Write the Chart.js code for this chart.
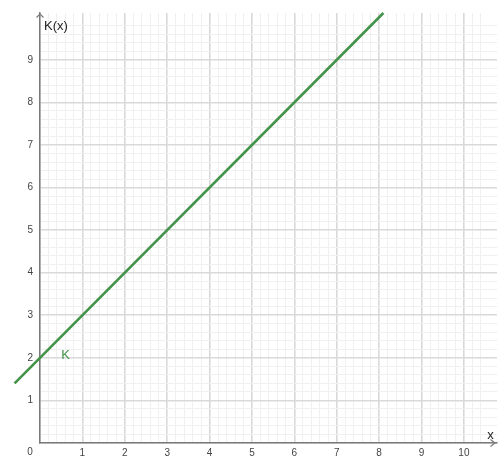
<!DOCTYPE html>
<html>
<head>
<meta charset="utf-8">
<script src="https://cdn.jsdelivr.net/npm/chart.js@4.4.1/dist/chart.umd.min.js"></script>
<style>
  html, body { margin: 0; padding: 0; background: #fff; }
  canvas { display: block; }
</style>
</head>
<body>
<canvas id="chart" width="501" height="456"></canvas>
<script>
// DATA
const lineX = [-0.6, 8.1];        // K(x) endpoints
const lineY = [1.4, 10.1];
const xTickLabels = ['1', '2', '3', '4', '5', '6', '7', '8', '9', '10'];
const yTickLabels = ['1', '2', '3', '4', '5', '6', '7', '8', '9'];
const X_MIN = 0, X_MAX = 10.78;
const Y_MIN = 0, Y_MAX = 10.1;
const MINOR = 0.2;

const LINE_COLOR = '#43934a';
const AXIS_COLOR = '#7a7a7a';
const MAJOR_COLOR = '#d9d9d9';
const MINOR_COLOR = '#f0f0f0';
const FONT = 'Liberation Sans, Arial, sans-serif';

function isMajor(v) { return Math.abs(v - Math.round(v)) < 1e-6; }
function isMinor(v) { return Math.abs(v / MINOR - Math.round(v / MINOR)) < 1e-6; }

function gridColor(ctx) {
    const v = ctx.tick ? ctx.tick.value : 0;
    if (isMajor(v)) return MAJOR_COLOR;
    if (isMinor(v)) return MINOR_COLOR;
    return 'rgba(0,0,0,0)';
}
function gridWidth(ctx) {
    const v = ctx.tick ? ctx.tick.value : 0;
    return isMajor(v) ? 1.6 : 1;
}

// labels, arrows and the "0" at the corner
const extras = {
    id: 'extras',
    afterDraw(chart) {
        const c = chart.ctx;
        const xs = chart.scales.x, ys = chart.scales.y;
        const x0 = xs.getPixelForValue(0), y0 = ys.getPixelForValue(0);
        c.save();
        c.strokeStyle = AXIS_COLOR;
        c.lineWidth = 1.2;
        // y arrow
        const top = chart.chartArea.top;
        c.beginPath();
        c.moveTo(x0 - 3.5, top + 4.5); c.lineTo(x0, top + 1); c.lineTo(x0 + 3.5, top + 4.5);
        c.stroke();
        // x arrow
        const right = chart.chartArea.right - 2;
        c.beginPath();
        c.moveTo(right - 4.5, y0 - 3.5); c.lineTo(right, y0); c.lineTo(right - 4.5, y0 + 3.5);
        c.stroke();

        c.fillStyle = '#444';
        c.font = '10px ' + FONT;
        c.textAlign = 'center';
        c.textBaseline = 'middle';
        c.fillText('0', x0 - 10, y0 + 9);

        c.fillStyle = '#222';
        c.font = '13px ' + FONT;
        c.textAlign = 'left';
        c.fillText('K(x)', x0 + 4, top + 13);
        c.fillText('x', xs.getPixelForValue(10.55), ys.getPixelForValue(0.17));

        c.fillStyle = LINE_COLOR;
        c.fillText('K', xs.getPixelForValue(0.5), ys.getPixelForValue(2.05));
        c.restore();
    }
};

function buildChart() {
    const points = lineX.map((x, i) => ({ x: x, y: lineY[i] }));
    new Chart(document.getElementById('chart'), {
        type: 'scatter',
        data: {
            datasets: [{
                data: points,
                showLine: true,
                borderColor: LINE_COLOR,
                borderWidth: 2.6,
                pointRadius: 0,
                clip: false
            }]
        },
        options: {
            responsive: false,
            animation: false,
            layout: { padding: { top: 9, right: 0, left: 0, bottom: 0 } },
            plugins: { legend: { display: false }, tooltip: { enabled: false } },
            scales: {
                x: {
                    type: 'linear', min: X_MIN, max: X_MAX,
                    afterFit: s => { s.height = 13; },
                    border: { color: AXIS_COLOR, width: 1.5 },
                    grid: { color: gridColor, drawTicks: false, lineWidth: gridWidth },
                    ticks: {
                        stepSize: MINOR, autoSkip: false, maxRotation: 0, padding: 4,
                        color: '#444', font: { size: 10, family: FONT },
                        callback: v => {
                            if (!isMajor(v)) return '';
                            const i = Math.round(v) - 1;
                            return i >= 0 && i < xTickLabels.length ? xTickLabels[i] : '';
                        }
                    }
                },
                y: {
                    type: 'linear', min: Y_MIN, max: Y_MAX,
                    afterFit: s => { s.width = 40; },
                    border: { color: AXIS_COLOR, width: 1.5 },
                    grid: { color: gridColor, drawTicks: false, lineWidth: gridWidth },
                    ticks: {
                        stepSize: MINOR, autoSkip: false, padding: 7,
                        color: '#444', font: { size: 10, family: FONT },
                        callback: v => {
                            if (!isMajor(v)) return '';
                            const i = Math.round(v) - 1;
                            return i >= 0 && i < yTickLabels.length ? yTickLabels[i] : '';
                        }
                    }
                }
            }
        },
        plugins: [extras]
    });
}

window.onload = buildChart;
</script>
</body>
</html>
